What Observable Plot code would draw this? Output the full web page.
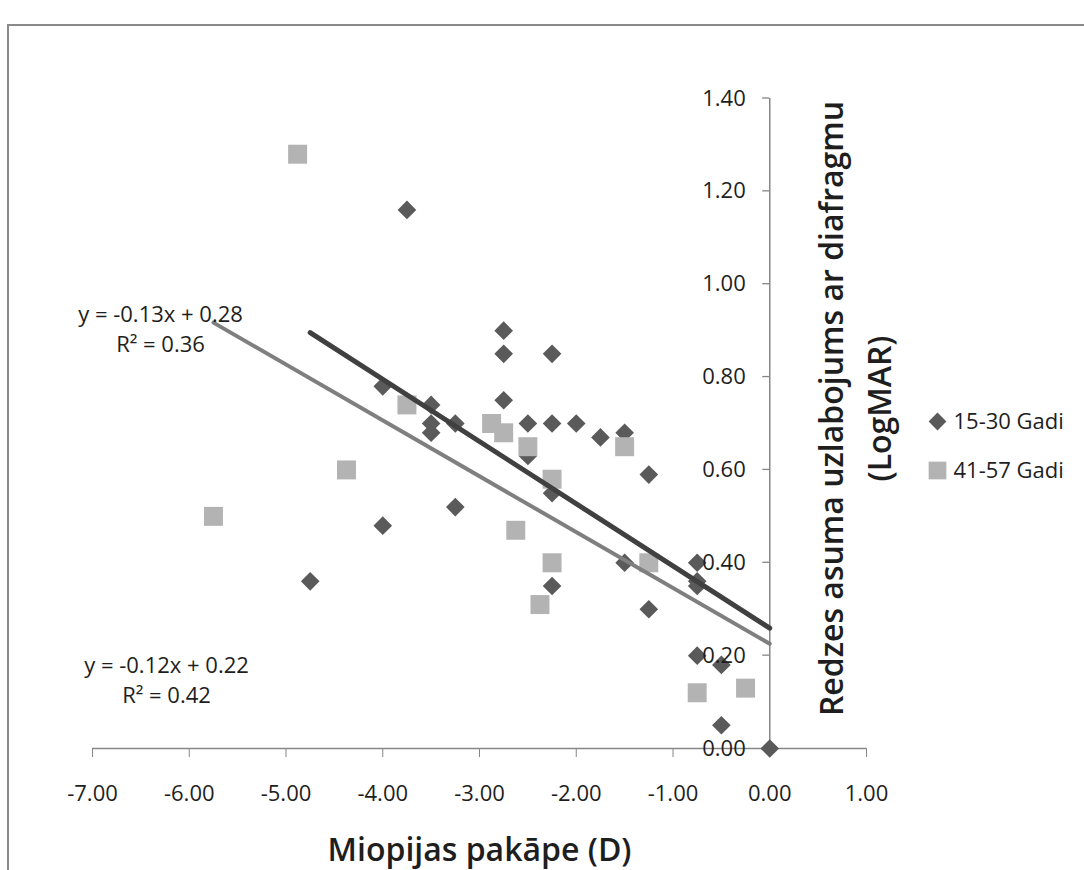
<!DOCTYPE html>
<html>
<head>
<meta charset="utf-8">
<script src="https://cdn.jsdelivr.net/npm/d3@7"></script>
<script src="https://cdn.jsdelivr.net/npm/@observablehq/plot@0.6"></script>
<style>
  html, body { margin: 0; padding: 0; background: #fff; overflow: hidden; }
  #wrap { position: relative; width: 1084px; height: 870px; overflow: hidden; }
  #border { position: absolute; left: 7px; top: 24px; width: 1200px; height: 1000px;
            border: 2px solid #8a8a8a; pointer-events: none; }
  svg { font-family: "Open Sans", sans-serif; }
</style>
</head>
<body>
<div id="wrap"><div id="chart"></div><div id="border"></div></div>
<script>
// ---- data ----
const xTicks = [-7, -6, -5, -4, -3, -2, -1, 0, 1];
const yTicks = [0, 0.2, 0.4, 0.6, 0.8, 1.0, 1.2, 1.4];

const seriesNames = ["15-30 Gadi", "41-57 Gadi"];

// 15-30 Gadi (dark diamonds)
const youngX = [-3.75, -4.75, -4, -4, -3.5, -3.5, -3.5, -3.25, -3.25, -2.75, -2.75, -2.75,
                -2.5, -2.5, -2.25, -2.25, -2.25, -2.25, -2, -1.75, -1.5, -1.5, -1.25, -1.25,
                -0.75, -0.75, -0.75, -0.75, -0.5, -0.5, 0];
const youngY = [1.16, 0.36, 0.78, 0.48, 0.74, 0.70, 0.68, 0.70, 0.52, 0.90, 0.85, 0.75,
                0.70, 0.63, 0.85, 0.70, 0.55, 0.35, 0.70, 0.67, 0.68, 0.40, 0.59, 0.30,
                0.40, 0.36, 0.35, 0.20, 0.18, 0.05, 0.00];

// 41-57 Gadi (light squares)
const olderX = [-4.88, -5.75, -4.375, -3.75, -2.875, -2.75, -2.5, -1.5, -2.25, -2.625,
                -2.25, -1.25, -2.375, -0.75, -0.25];
const olderY = [1.28, 0.50, 0.60, 0.74, 0.70, 0.68, 0.65, 0.65, 0.58, 0.47,
                0.40, 0.40, 0.31, 0.12, 0.13];

// trendline labels as printed on the chart
const labelYoung = "y = -0.13x + 0.28\nR² = 0.36";
const labelOlder = "y = -0.12x + 0.22\nR² = 0.42";
const trendEnd = 0; // trendlines are drawn up to the y axis (x = 0)

const xTitle = "Miopijas pakāpe (D)";
const yTitle = "Redzes asuma uzlabojums ar diafragmu\n(LogMAR)";

// ---- helpers ----
const young = youngX.map((x, i) => ({x, y: youngY[i]}));
const older = olderX.map((x, i) => ({x, y: olderY[i]}));

function fit(pts) {
  const mx = d3.mean(pts, d => d.x), my = d3.mean(pts, d => d.y);
  const sxy = d3.sum(pts, d => (d.x - mx) * (d.y - my));
  const sxx = d3.sum(pts, d => (d.x - mx) ** 2);
  const b = sxy / sxx, a = my - b * mx;
  const x0 = d3.min(pts, d => d.x);
  return [{x: x0, y: a + b * x0}, {x: trendEnd, y: a + b * trendEnd}];
}

const DARK = "#5a5a5a", LIGHT = "#b3b3b3", AXIS = "#868686", TEXT = "#1e1e1e";

const yTickMarks = (index, scales) => {
  const g = d3.create("svg:g").attr("stroke", AXIS).attr("stroke-width", 1.3);
  for (const t of yTicks) {
    g.append("line")
      .attr("x1", scales.x(0) - 7).attr("x2", scales.x(0))
      .attr("y1", scales.y(t)).attr("y2", scales.y(t));
  }
  return g.node();
};

const chart = Plot.plot({
  width: 1084,
  height: 870,
  marginLeft: 92,
  marginRight: 218,
  marginTop: 98,
  marginBottom: 122,
  style: {background: "transparent", fontFamily: "Open Sans, sans-serif", color: TEXT},
  x: {domain: [-7, 1]},
  y: {domain: [0, 1.4], axis: null},
  marks: [
    Plot.ruleY([0], {stroke: AXIS, strokeWidth: 1.5}),
    Plot.ruleX([0], {stroke: AXIS, strokeWidth: 1.5}),
    Plot.axisX({ticks: xTicks, tickSize: 9, tickPadding: 28, tickFormat: d => d.toFixed(2),
                label: null, stroke: AXIS, fill: TEXT, fontSize: 22}),
    yTickMarks,
    Plot.dot(young, {x: "x", y: "y", symbol: "diamond2", r: 8.4, fill: DARK, stroke: null}),
    Plot.dot(older, {x: "x", y: "y", symbol: "square", r: 10.7, fill: LIGHT, stroke: null}),
    Plot.line(fit(older), {x: "x", y: "y", stroke: "#7f7f7f", strokeWidth: 4}),
    Plot.line(fit(young), {x: "x", y: "y", stroke: "#404040", strokeWidth: 5}),
    Plot.text(yTicks, {x: 0, y: d => d, text: d => d.toFixed(2), textAnchor: "end", dx: -24,
                       fontSize: 22, fill: TEXT}),
    Plot.text([labelYoung], {frameAnchor: "top-left", dx: 68, dy: 229, textAnchor: "middle",
                             lineAnchor: "middle", lineHeight: 1.38, fontSize: 22, fill: TEXT}),
    Plot.text([labelOlder], {frameAnchor: "top-left", dx: 74, dy: 580, textAnchor: "middle",
                             lineAnchor: "middle", lineHeight: 1.38, fontSize: 22, fill: TEXT}),
    Plot.text([xTitle], {frameAnchor: "bottom", dy: 102, textAnchor: "middle", lineAnchor: "middle",
                         fontSize: 32, fontWeight: 600, fill: TEXT}),
    Plot.text([yTitle], {frameAnchor: "right", dx: -15, dy: -15, rotate: -90, textAnchor: "middle",
                         lineAnchor: "middle", fontSize: 32, fontWeight: 600, lineHeight: 1.5, fill: TEXT}),
    // legend
    Plot.dot([seriesNames[0]], {frameAnchor: "right", dx: 71, dy: -2, symbol: "diamond2", r: 8, fill: DARK}),
    Plot.dot([seriesNames[1]], {frameAnchor: "right", dx: 71, dy: 47, symbol: "square", r: 10, fill: LIGHT}),
    Plot.text([seriesNames[0]], {frameAnchor: "right", dx: 87, dy: -2, textAnchor: "start", fontSize: 22, fill: TEXT}),
    Plot.text([seriesNames[1]], {frameAnchor: "right", dx: 87, dy: 47, textAnchor: "start", fontSize: 22, fill: TEXT})
  ]
});
document.getElementById("chart").appendChild(chart);
</script>
</body>
</html>
